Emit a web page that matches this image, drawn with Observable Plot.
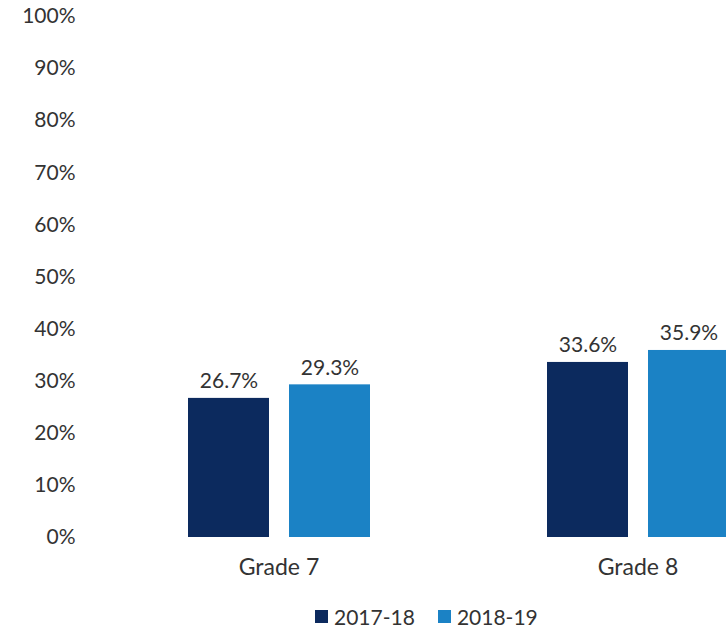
<!DOCTYPE html>
<html><head><meta charset="utf-8">
<script src="https://cdn.jsdelivr.net/npm/d3@7"></script>
<script src="https://cdn.jsdelivr.net/npm/@observablehq/plot@0.6"></script>
<style>
body{margin:0;background:#fff;font-family:Lato,sans-serif;}
#wrap{position:relative;width:726px;height:630px;overflow:hidden;background:#fff;}
#legend{position:absolute;left:315px;top:604px;display:flex;align-items:center;font-size:21px;color:#333;font-family:Lato,sans-serif;}
.sw{display:inline-block;width:13px;height:13px;margin-right:6px;}
.item{display:flex;align-items:center;margin-right:23px;}
</style></head><body><div id="wrap"></div>
<script>
const grades = ["Grade 7", "Grade 8"];
const years = ["2017-18", "2018-19"];
const values2017 = [26.7, 33.6];
const values2018 = [29.3, 35.9];
const colors = ["#0c2a5e", "#1b82c5"];
const yTicks = [0, 10, 20, 30, 40, 50, 60, 70, 80, 90, 100];

const data = grades.flatMap((g, i) => [
  {grade: g, year: years[0], value: values2017[i]},
  {grade: g, year: years[1], value: values2018[i]}
]);

const plot = Plot.plot({
  width: 729, height: 600,
  marginLeft: 187, marginRight: 0, marginTop: 16, marginBottom: 63,
  style: {fontFamily: "Lato, sans-serif", maxWidth: "none", background: "#fff", color: "#333"},
  fx: {domain: grades, paddingInner: 0.4903, paddingOuter: 0, label: null, axis: null},
  x: {domain: years, paddingInner: 0.2, paddingOuter: 0, axis: null},
  y: {domain: [0, 100], axis: null},
  color: {domain: years, range: colors},
  marks: [
    Plot.barY(data, {fx: "grade", x: "year", y: "value", fill: "year"}),
    Plot.text(data, {fx: "grade", x: "year", y: "value", text: d => d.value.toFixed(1) + "%", lineAnchor: "bottom", dy: -10, fontSize: 21, fill: "#333"}),
    Plot.axisY({ticks: yTicks, tickFormat: d => d + "%", tickSize: 0, tickPadding: 112, fontSize: 21, color: "#333", label: null}),
    Plot.axisFx({anchor: "bottom", tickSize: 0, tickPadding: 21, fontSize: 23, color: "#333", label: null})
  ]
});

const wrap = document.getElementById("wrap");
wrap.appendChild(plot);

const legend = document.createElement("div");
legend.id = "legend";
years.forEach((y, i) => {
  const item = document.createElement("span");
  item.className = "item";
  const sw = document.createElement("span");
  sw.className = "sw";
  sw.style.background = colors[i];
  item.appendChild(sw);
  item.appendChild(document.createTextNode(y));
  legend.appendChild(item);
});
wrap.appendChild(legend);
</script></body></html>
